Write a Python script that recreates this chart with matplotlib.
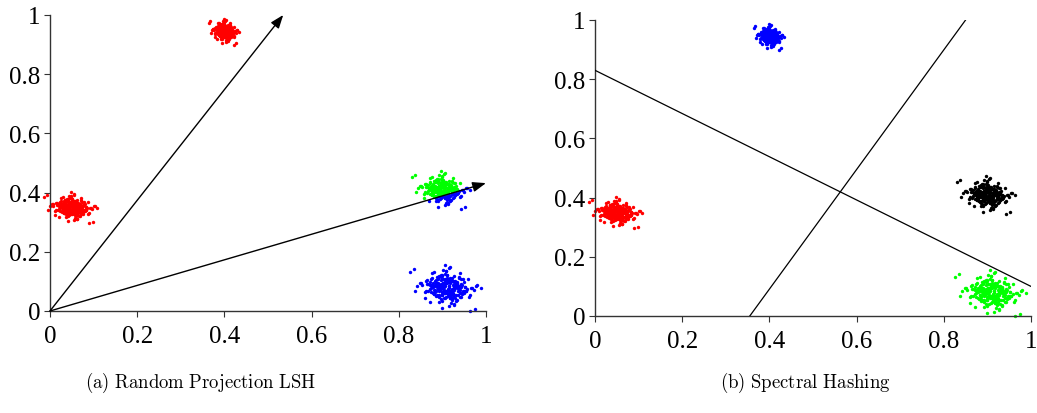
import numpy as np
import matplotlib
matplotlib.use("Agg")
import matplotlib.pyplot as plt

plt.rcParams['mathtext.fontset'] = 'cm'

# ---- data ----
ticks = [0, 0.2, 0.4, 0.6, 0.8, 1]
tick_labels = ["0", "0.2", "0.4", "0.6", "0.8", "1"]

# shared point offsets within a cluster (in units of cluster spread), read/estimated from the clouds
off_x = [0.1, -0.3, 0.5, -0.8, 1.2, -0.1, 0.4, -0.6, 0.9, -1.4,
         0.2, -0.2, 0.7, -1.0, 1.6, 0.0, -0.5, 0.3, -0.9, 1.1,
         -0.4, 0.6, -1.2, 0.8, -0.7, 1.3, -0.05, 0.45, -1.6, 2.0,
         0.15, -0.35, 0.55, -0.75, 0.95, -1.15, 1.35, -0.25, 0.65, -0.85,
         0.05, -0.45, 0.25, -0.65, 1.05, -1.3, 1.8, -2.1, 0.35, -0.15,
         0.75, -0.55, 1.45, -0.95, 0.12, -0.18, 0.62, -1.05, 2.4, -2.6,
         0.28, -0.38, 0.48, -0.58, 0.88, -1.25, 1.15, -0.08, 0.38, -0.72,
         1.7, -1.8, 0.02, -0.62, 0.82, -0.32, 0.52, -0.42, 1.25, -1.5,
         0.22, -0.12, 0.68, -0.88, 0.98, -1.1, 1.5, -0.02, 0.42, -0.68,
         2.8, -3.0, 0.32, -0.28, 0.58, -0.78, 1.0, -0.5, 0.18, -0.22,
         0.72, -0.92, 1.22, -1.35, 0.08, -0.48, 0.85, -0.3, 1.9, -2.2,
         0.4, -0.1, 0.6, -0.4, 0.3, -0.7, 1.1, -1.0, 2.3, -1.7]
off_y = [-0.2, 0.6, -0.9, 0.1, 0.4, -1.3, 0.8, -0.4, -0.1, 0.7,
         1.1, -0.6, 0.3, -0.8, -0.5, 1.5, 0.2, -1.1, 0.9, -0.3,
         -1.7, 0.05, 1.2, 0.5, -0.15, -0.7, 2.1, -0.35, 0.45, -0.05,
         0.65, -1.0, -0.25, 1.3, 0.15, 0.55, -0.45, -1.4, 0.85, 0.35,
         -0.75, 0.95, -0.55, -0.1, 1.75, 0.25, -1.2, 0.6, -2.0, 1.0,
         0.1, -0.3, -0.65, 0.75, -1.05, 0.4, 1.4, -0.85, 0.2, -0.4,
         2.5, -0.95, 0.3, -0.2, -1.6, 1.05, 0.0, 0.7, -0.5, 1.2,
         -0.15, -0.6, 0.9, -1.25, 0.5, 0.12, -0.32, 1.6, -0.8, 0.42,
         -2.4, 0.22, 0.62, -0.42, 1.15, -0.72, 0.02, -1.15, 0.82, 0.32,
         -0.12, 1.9, -0.52, 0.08, -0.9, 0.52, 1.3, -1.5, 0.18, -0.28,
         0.72, -0.62, 0.28, -1.8, 1.0, -0.08, 0.38, 2.2, -1.0, 0.58,
         -0.38, 0.92, -0.22, 1.45, -1.35, 0.48, -0.68, 0.15, -2.7, 0.8]

# cluster centres and spreads
cluster_cx = [0.05, 0.40, 0.90, 0.91]
cluster_cy = [0.35, 0.945, 0.41, 0.08]
cluster_sx = [0.021, 0.012, 0.023, 0.028]
cluster_sy = [0.018, 0.015, 0.022, 0.027]

# (a) cluster colours; cluster 2 is split by hash bit
colors_a = ["#ff0000", "#ff0000", None, "#0000ff"]
colors_b = ["#ff0000", "#0000ff", "#000000", "#00ff00"]

# (a) random projection directions (arrow tips)
arrow_x = [0.535, 1.0]
arrow_y = [1.0, 0.432]

# (b) spectral hashing boundaries
line_x = [[0.0, 1.0], [0.355, 0.85]]
line_y = [[0.83, 0.10], [0.0, 1.0]]

captions = [r"$\mathrm{(a)\ Random\ Projection\ LSH}$", r"$\mathrm{(b)\ Spectral\ Hashing}$"]

# ---- figure ----
fig = plt.figure(figsize=(10.37, 4.14), dpi=100)
axA = fig.add_axes([0.0482, 0.2464, 0.4204, 0.715])
axB = fig.add_axes([0.5738, 0.2343, 0.4204, 0.715])

# two passes over the offset table (second with the columns exchanged)
ox = np.array(off_x + off_y)
oy = np.array(off_y + off_x)

def pts(i):
    return cluster_cx[i] + ox * cluster_sx[i], cluster_cy[i] + oy * cluster_sy[i]

def style(ax):
    ax.set_xlim(0, 1)
    ax.set_ylim(0, 1)
    for s in ["top", "right"]:
        ax.spines[s].set_visible(False)
    for s in ["left", "bottom"]:
        ax.spines[s].set_color("#333333")
        ax.spines[s].set_linewidth(1.0)
    ax.set_xticks(ticks)
    ax.set_xticklabels(tick_labels)
    ax.set_yticks(ticks)
    ax.set_yticklabels(tick_labels)
    ax.tick_params(direction="out", length=4, width=0.8, color="#333333",
                   labelsize=18)
    ax.tick_params(axis="x", pad=6)
    ax.tick_params(axis="y", pad=3)
    for lab in ax.get_xticklabels() + ax.get_yticklabels():
        lab.set_fontfamily("Liberation Serif")

ms = 6
# panel (a)
for i in range(4):
    x, y = pts(i)
    if colors_a[i] is None:
        above = y > 0.43 * x + 0.008
        axA.scatter(x[~above], y[~above], s=ms, c="#0000ff", linewidths=0, clip_on=False, zorder=2)
        axA.scatter(x[above], y[above], s=ms, c="#00ff00", linewidths=0, clip_on=False, zorder=3)
    else:
        axA.scatter(x, y, s=ms, c=colors_a[i], linewidths=0, clip_on=False, zorder=2)
for ex, ey in zip(arrow_x, arrow_y):
    axA.annotate("", xy=(ex, ey), xytext=(0, 0), annotation_clip=False,
                 arrowprops=dict(arrowstyle="-|>,head_length=0.8,head_width=0.3",
                                 color="black", lw=1.0, shrinkA=0, shrinkB=0),
                 zorder=4)
style(axA)

# panel (b)
for i in range(4):
    x, y = pts(i)
    axB.scatter(x, y, s=ms, c=colors_b[i], linewidths=0, clip_on=False, zorder=2)
for lx, ly in zip(line_x, line_y):
    axB.plot(lx, ly, color="black", lw=0.9, zorder=3)
style(axB)

fig.text(201 / 1037, 1 - 383 / 414, captions[0], fontsize=13.5, ha="center", va="center")
fig.text(805 / 1037, 1 - 383 / 414, captions[1], fontsize=13.5, ha="center", va="center")

fig.savefig("out.png", dpi=100)
